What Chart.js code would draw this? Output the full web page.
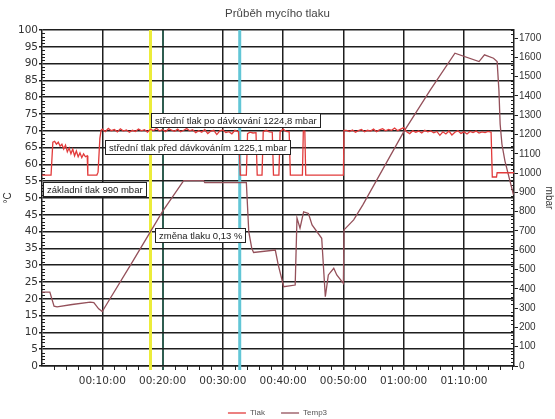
<!DOCTYPE html>
<html><head><meta charset="utf-8">
<script src="https://cdn.jsdelivr.net/npm/chart.js@4"></script>
<style>html,body{margin:0;padding:0;background:#fff;} #wrap{width:555px;height:419px;}</style>
</head><body><div id="wrap"><canvas id="c" width="555" height="419"></canvas></div>
<script>
const chartTitle = 'Průběh mycího tlaku';
const seriesNames = ['Tlak', 'Temp3'];
const leftAxisTitle = '°C';
const rightAxisTitle = 'mbar';

// time in minutes, pressure in mbar (right axis)
const tlakTime = [
  0, 1.5, 1.8, 2.1, 2.4, 2.7, 3.0, 3.3, 3.6, 3.9, 4.2, 4.5, 4.8, 5.1, 5.4, 5.7, 6.0, 6.3, 6.6, 6.9, 7.2, 7.5, 7.6, 9.1, 9.3, 9.6, 9.8,
  10.0, 10.5, 11.0, 11.5, 12.0, 12.5, 13.0, 13.5, 14.0, 14.5, 15.0, 15.5, 16.0, 16.5, 17.0, 17.5, 18.0, 18.5, 19.0, 19.5,
  20.0, 20.5, 21.0, 21.5, 22.0, 22.5, 23.0, 23.5, 24.0, 24.5, 25.0, 25.5, 26.0, 26.5, 27.0, 27.5, 28.0, 28.5, 29.0, 29.5,
  30.0, 30.5, 31.0, 31.5, 32.0, 32.5,
  32.6, 32.9, 33.9, 34.1, 34.5, 35.0, 35.5, 35.7, 36.5, 36.7, 37.2, 37.7, 38.2, 38.4, 39.3, 39.5, 40.0, 40.5, 41.0, 41.2,
  43.2, 43.35, 43.6, 43.75, 50.0, 50.1,
  50.5, 51.0, 51.5, 52.0, 52.5, 53.0, 53.5, 54.0, 54.5, 55.0, 55.5, 56.0, 56.5, 57.0, 57.5, 58.0, 58.5, 59.0, 59.5,
  60.0, 60.5, 61.0, 61.5, 62.0, 62.5, 63.0, 63.5, 64.0, 64.5, 65.0, 65.5, 66.0, 66.5, 67.0, 67.5, 68.0, 68.5, 69.0, 69.5,
  70.0, 70.5, 71.0, 71.5, 72.0, 72.5, 73.0, 73.5, 74.0, 74.5,
  74.6, 74.7, 75.4, 75.5, 78.3
];
const tlakValue = [
  990, 990, 1160, 1165, 1150, 1160, 1140, 1150, 1125, 1145, 1110, 1130, 1100, 1125, 1090, 1115, 1085, 1105, 1080, 1100, 1085, 1090, 990, 990, 1005, 1180, 1222,
  1228, 1215, 1232, 1220, 1226, 1214, 1230, 1218, 1224, 1212, 1222, 1216, 1229, 1219, 1225, 1213, 1227, 1221, 1232, 1218,
  1226, 1215, 1230, 1223, 1217, 1228, 1214, 1222, 1231, 1219, 1225, 1210, 1220, 1212, 1226, 1205, 1218, 1222, 1200, 1219,
  1224, 1210, 1215, 1204, 1222, 1215,
  1215, 990, 990, 1205, 1212, 1208, 1210, 990, 990, 1215, 1222, 1214, 1212, 990, 990, 1215, 1228, 1216, 1214, 990,
  990, 1218, 1218, 990, 990, 1222,
  1222, 1216, 1224, 1212, 1220, 1226, 1214, 1222, 1218, 1228, 1215, 1224, 1230, 1219, 1226, 1222, 1234, 1220, 1228,
  1236, 1214, 1205, 1220, 1212, 1218, 1208, 1222, 1214, 1219, 1209, 1216, 1196, 1214, 1203, 1218, 1198, 1212, 1220, 1206,
  1214, 1203, 1216, 1210, 1218, 1208, 1214, 1210, 1216, 1212,
  1212, 980, 980, 1002, 1002
];

// time in minutes, temperature in °C (left axis)
const temp3Time = [
  0, 1.3, 2.0, 2.5, 5.0, 8.0, 8.6, 9.4, 10.0, 10.4, 15.0, 20.0, 23.5, 26.8, 27.0, 33.9, 34.3, 34.8, 35.1,
  38.7, 39.2, 40.1, 42.0, 42.3, 42.8, 43.4, 44.2, 44.8, 46.4, 47.0, 47.5, 48.4, 48.9, 50.0, 50.1, 51.7, 53.2,
  60.0, 64.4, 68.5, 72.5, 73.4, 74.9, 75.5, 75.8, 76.0, 76.3, 76.8, 77.5, 78.2
];
const temp3Value = [
  22, 22, 17.8, 17.6, 18.3, 19.0, 18.9, 17.0, 16.2, 17.4, 31.0, 46.0, 55.2, 55.2, 54.6, 54.6, 40.0, 35.0, 33.8,
  34.5, 30.0, 23.6, 24.1, 44.0, 41.0, 45.9, 45.4, 42.0, 38.0, 20.6, 27.1, 29.1, 27.1, 24.6, 40.5, 43.5, 47.9,
  69.7, 82.1, 93.1, 90.6, 92.6, 91.6, 90.6, 82.0, 72.0, 66.0, 61.0, 56.0, 51.0
];

const xTickValues = [10, 20, 30, 40, 50, 60, 70];
const leftTickValues = [0,5,10,15,20,25,30,35,40,45,50,55,60,65,70,75,80,85,90,95,100];
const rightTickValues = [0,100,200,300,400,500,600,700,800,900,1000,1100,1200,1300,1400,1500,1600,1700];

// cursor times (minutes): yellow, cyan; dark-green cursor on 20 min
const cursorTimes = [18.0, 32.8];
const greenCursorTime = 20;

const annotationTexts = [
  'střední tlak po dávkování 1224,8 mbar',
  'střední tlak před dávkováním 1225,1 mbar',
  'základní tlak 990 mbar',
  'změna tlaku 0,13 %'
];
// anchors: [time (min), left-axis value] of box top-left corner
const annotationAnchors = [[18.1, 75.3], [10.5, 67.3], [0.2, 54.8], [18.8, 41.1]];

function fmtTime(m) {
  const h = Math.floor(m / 60), mm = Math.round(m % 60);
  const p = n => String(n).padStart(2, '0');
  return p(h) + ':' + p(mm) + ':00';
}

const GRID = '#1e1e1e';
const overlay = {
  id: 'overlay',
  beforeDatasetsDraw(chart) {
    const {ctx, chartArea: a, scales: {x, yL, yR}} = chart;
    ctx.save();
    ctx.strokeStyle = GRID; ctx.lineWidth = 1;
    ctx.beginPath();
    for (let t = 2; t < 78.3; t += 2) {
      if (t % 10 === 0) continue;
      const px = Math.round(x.getPixelForValue(t)) + 0.5;
      ctx.moveTo(px, a.bottom); ctx.lineTo(px, a.bottom + 4);
    }
    for (let v = 1; v < 100; v++) {
      if (v % 5 === 0) continue;
      const py = Math.round(yL.getPixelForValue(v)) + 0.5;
      ctx.moveTo(a.left, py); ctx.lineTo(a.left + 3, py);
    }
    for (let v = 20; v < 1742; v += 20) {
      if (v % 100 === 0) continue;
      const py = Math.round(yR.getPixelForValue(v)) + 0.5;
      ctx.moveTo(a.right, py); ctx.lineTo(a.right - 3, py);
    }
    ctx.stroke();
    const colors = ['#ecec3a', '#62c6d6'];
    cursorTimes.forEach((t, i) => {
      const px = x.getPixelForValue(t);
      ctx.strokeStyle = colors[i]; ctx.lineWidth = 3;
      ctx.beginPath(); ctx.moveTo(px, a.top); ctx.lineTo(px, a.bottom + 4); ctx.stroke();
    });
    ctx.restore();
  },
  afterDatasetsDraw(chart) {
    const {ctx, scales: {x, yL}} = chart;
    ctx.save();
    ctx.font = '9.5px "Liberation Sans", Arial, sans-serif';
    ctx.textBaseline = 'middle';
    annotationTexts.forEach((txt, i) => {
      const [t, v] = annotationAnchors[i];
      const left = Math.round(x.getPixelForValue(t)) + 0.5;
      const top = Math.round(yL.getPixelForValue(v)) + 0.5;
      const w = Math.round(ctx.measureText(txt).width + 7);
      const h = 14;
      ctx.fillStyle = '#fff';
      ctx.fillRect(left, top, w, h);
      ctx.strokeStyle = '#222'; ctx.lineWidth = 1;
      ctx.strokeRect(left, top, w, h);
      ctx.fillStyle = '#222';
      ctx.fillText(txt, left + 3.5, top + h / 2 + 0.5);
    });
    ctx.restore();
  }
};

const tickFont = {family: '"DejaVu Sans", sans-serif', size: 10.5};
new Chart(document.getElementById('c').getContext('2d'), {
  type: 'line',
  data: {
    datasets: [
      {label: seriesNames[0], data: tlakTime.map((t, i) => ({x: t, y: tlakValue[i]})), yAxisID: 'yR',
       borderColor: '#e23b3b', backgroundColor: '#e23b3b', borderWidth: 1.3, pointRadius: 0, tension: 0},
      {label: seriesNames[1], data: temp3Time.map((t, i) => ({x: t, y: temp3Value[i]})), yAxisID: 'yL',
       borderColor: '#94505a', backgroundColor: '#94505a', borderWidth: 1.3, pointRadius: 0, tension: 0}
    ]
  },
  options: {
    responsive: false, animation: false, devicePixelRatio: 1,
    layout: {padding: 0},
    plugins: {
      title: {display: true, text: chartTitle, color: '#444',
        font: {family: '"Liberation Sans", Arial, sans-serif', size: 11.5, weight: 'normal'},
        padding: {top: 7, bottom: 9.2}},
      legend: {position: 'bottom', maxHeight: 26,
        labels: {usePointStyle: true, pointStyle: 'line', pointStyleWidth: 18, padding: 16, color: '#555',
          font: {family: '"Liberation Sans", Arial, sans-serif', size: 8}}},
      tooltip: {enabled: false}
    },
    scales: {
      x: {type: 'linear', min: 0, max: 78.3,
        afterBuildTicks: s => { s.ticks = xTickValues.map(v => ({value: v})); },
        afterFit: s => { s.height = 27; },
        grid: {color: c => (c.tick && c.tick.value === greenCursorTime) ? '#2f5d50' : GRID,
               lineWidth: c => (c.tick && c.tick.value === greenCursorTime) ? 2 : 1.5, tickLength: 4},
        border: {display: true, color: GRID, width: 1.5},
        ticks: {callback: v => fmtTime(v), color: '#333', font: tickFont, padding: 5, maxRotation: 0, autoSkip: false}},
      yL: {position: 'left', min: 0, max: 100,
        afterBuildTicks: s => { s.ticks = leftTickValues.map(v => ({value: v})); },
        afterFit: s => { s.width = 42; },
        title: {display: true, text: leftAxisTitle, color: '#333', padding: {top: 2, bottom: 0},
          font: {family: '"Liberation Sans", Arial, sans-serif', size: 10}},
        grid: {color: GRID, lineWidth: 1.5, tickLength: 3},
        border: {display: true, color: GRID, width: 1.5},
        ticks: {callback: v => String(v), color: '#333', font: tickFont, padding: 1, autoSkip: false}},
      yR: {position: 'right', min: 0, max: 1742,
        afterBuildTicks: s => { s.ticks = rightTickValues.map(v => ({value: v})); },
        afterFit: s => { s.width = 41; },
        title: {display: true, text: rightAxisTitle, color: '#333', padding: {top: 0, bottom: 0},
          font: {family: '"Liberation Sans", Arial, sans-serif', size: 10}},
        grid: {drawOnChartArea: false, color: GRID, lineWidth: 1, tickLength: 4},
        border: {display: true, color: GRID, width: 1.5},
        ticks: {callback: v => String(v), color: '#333', font: {family: '"Liberation Sans", Arial, sans-serif', size: 10}, padding: 1, autoSkip: false}}
    }
  },
  plugins: [overlay]
});
</script>
</body></html>
